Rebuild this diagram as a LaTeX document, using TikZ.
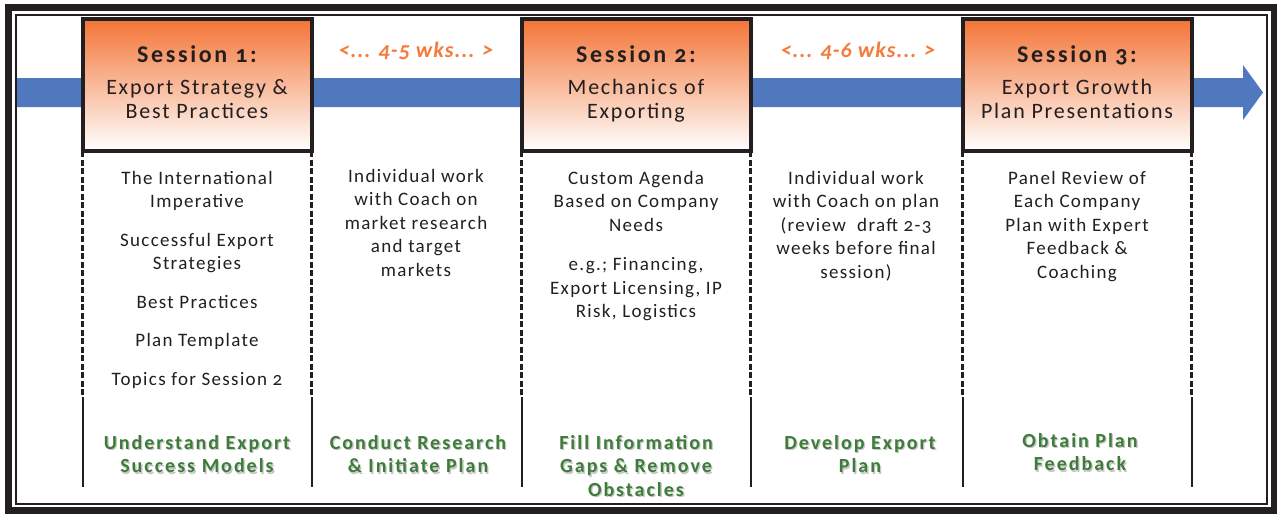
\documentclass[tikz,border=0pt]{standalone}
\usepackage{fontspec}
\setmainfont{Carlito}
\newfontfamily\headfont{Carlito}[LetterSpace=11, Numbers=OldStyle]
\newfontfamily\subfont{Carlito}[LetterSpace=8, Numbers=OldStyle]
\newfontfamily\bodyfont{Carlito}[LetterSpace=7, Numbers=OldStyle]
\newfontfamily\goalfont{Carlito}[LetterSpace=10, Numbers=OldStyle]
\newfontfamily\wksfont{Carlito}[LetterSpace=5, Numbers=OldStyle]
\usetikzlibrary{positioning}
\definecolor{framec}{HTML}{231F20}
\definecolor{barblue}{HTML}{4F78BE}
\definecolor{sessorange}{HTML}{F37436}
\definecolor{wkorange}{HTML}{F47B3B}
\definecolor{goalgreen}{HTML}{3D7C39}
\newcommand{\shd}[1]{\makebox[0pt][l]{\hspace{1.3pt}\raisebox{-1.3pt}{\textcolor{black!22}{#1}}}#1}

\begin{document}
\begin{tikzpicture}[x=1pt, y=-1pt,
    sess/.style={draw=framec, line width=4pt, outer sep=0pt, inner sep=0pt,
        minimum width=229pt, minimum height=132pt, text depth=6pt,
        top color=sessorange, bottom color=white,
        align=center, text=framec, font=\fontsize{22}{23.5}\selectfont},
    body/.style={align=center, inner sep=0pt, anchor=north, text=framec,
        font=\bodyfont\fontsize{19}{23.5}\selectfont},
    goal/.style={align=center, inner sep=0pt, anchor=north, text=goalgreen,
        font=\goalfont\bfseries\fontsize{20}{23.5}\selectfont},
    wks/.style={text=wkorange, font=\wksfont\bfseries\itshape\fontsize{22}{24}\selectfont},
    dashline/.style={draw=framec, line width=2.5pt, dash pattern=on 6pt off 2.5pt},
    solidline/.style={draw=framec, line width=2pt}]
    \useasboundingbox (0,0) rectangle (1277,514);
    \fill[white] (0,0) rectangle (1277,514);

    % frame
    \draw[framec, line width=7pt] (8.5,7.5) rectangle (1274,510.5);
    \draw[framec, line width=1.5pt] (16,15) rectangle (1267,504);

    % timeline arrow
    \fill[barblue] (17,78) -- (1243,78) -- (1243,65) -- (1263,92.5)
        -- (1243,120) -- (1243,107) -- (17,107) -- cycle;

    % sessions
    \node [sess] (s1) at (197,85) {\headfont\bfseries\fontsize{24}{23.5}\selectfont Session 1:\\[9pt]\subfont Export Strategy \&\\\subfont Best Practices};
    \node [sess, right=210pt of s1] (s2) {\headfont\bfseries\fontsize{24}{23.5}\selectfont Session 2:\\[9pt]\subfont Mechanics of\\\subfont Exporting};
    \node [sess, right=212pt of s2] (s3) {\headfont\bfseries\fontsize{24}{23.5}\selectfont Session 3:\\[9pt]\subfont Export Growth\\\subfont Plan Presentations};

    \node [wks] (w1) at (416,51) {<... 4-5 wks... >};
    \node [wks] (w2) at (858,51) {<... 4-6 wks... >};

    % column lines
    \foreach \s in {s1,s2,s3} {
        \foreach \a in {west,east} {
            \draw[dashline] (\s.south \a) -- ++(0,246) coordinate (\s\a);
            \draw[solidline] (\s\a) -- ++(0,90);
        }
    }

    % column texts
    \node [body, below=20pt of s1] (c1) {The International\\Imperative\\[15pt]Successful Export\\Strategies\\[15pt]Best Practices\\[15pt]Plan Template\\[15pt]Topics for Session 2};
    \node [body] (c2) at (416,169) {Individual work\\with Coach on\\market research\\and target\\markets};
    \node [body, below=20pt of s2] (c3) {Custom Agenda\\Based on Company\\Needs\\[16pt]e.g.; Financing,\\Export Licensing, IP\\Risk, Logistics};
    \node [body] (c4) at (856,171) {Individual work\\with Coach on plan\\(review~ draft 2-3\\weeks before final\\session)};
    \node [body, below=20pt of s3] (c5) {Panel Review of\\Each Company\\Plan with Expert\\Feedback \&\\Coaching};

    % goals
    \node [goal] (g1) at (197,435) {\shd{Understand Export}\\\shd{Success Models}};
    \node [goal] (g2) at (418,435) {\shd{Conduct Research}\\\shd{\& Initiate Plan}};
    \node [goal] (g3) at (636,435) {\shd{Fill Information}\\\shd{Gaps \& Remove}\\\shd{Obstacles}};
    \node [goal] (g4) at (860,435) {\shd{Develop Export}\\\shd{Plan}};
    \node [goal] (g5) at (1080,433) {\shd{Obtain Plan}\\\shd{Feedback}};
\end{tikzpicture}
\end{document}
